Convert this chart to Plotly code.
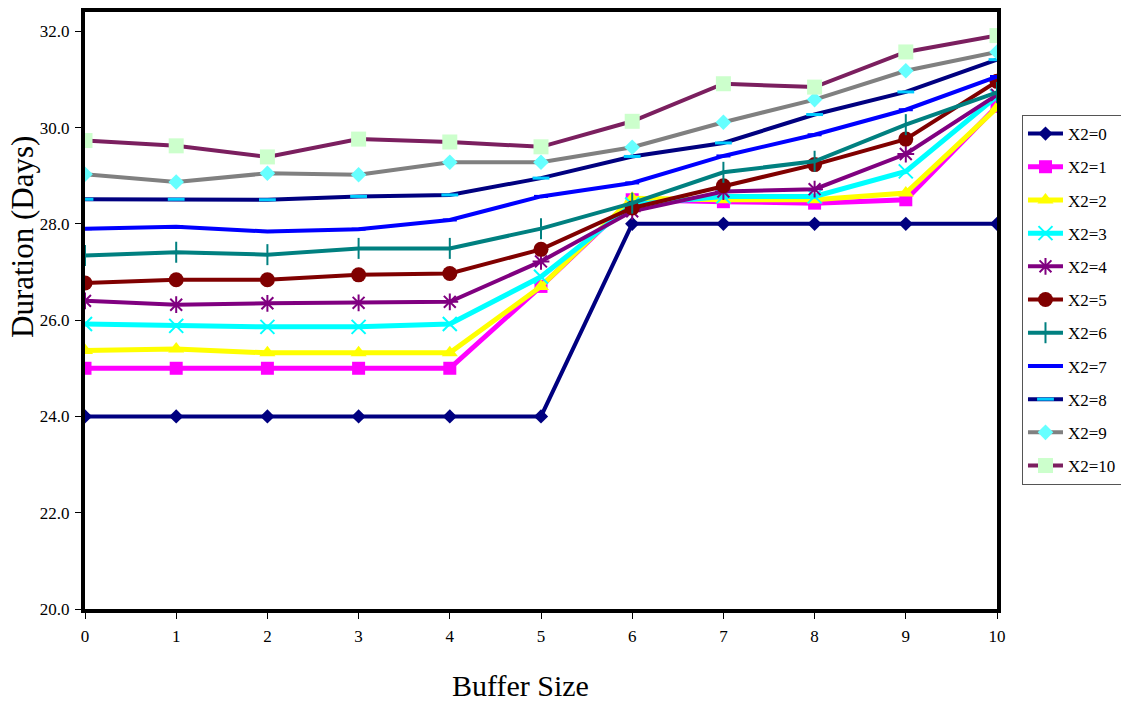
import plotly.graph_objects as go

buffer_size = [0, 1, 2, 3, 4, 5, 6, 7, 8, 9, 10]
series_names = ["X2=0", "X2=1", "X2=2", "X2=3", "X2=4", "X2=5",
                "X2=6", "X2=7", "X2=8", "X2=9", "X2=10"]

x2_0 = [24.0, 24.0, 24.0, 24.0, 24.0, 24.0, 28.0, 28.0, 28.0, 28.0, 28.0]
x2_1 = [25.0, 25.0, 25.0, 25.0, 25.0, 26.70, 28.50, 28.46, 28.43, 28.50, 30.44]
x2_2 = [25.37, 25.40, 25.32, 25.32, 25.32, 26.70, 28.53, 28.50, 28.50, 28.64, 30.41]
x2_3 = [25.92, 25.88, 25.86, 25.86, 25.92, 26.90, 28.40, 28.57, 28.57, 29.09, 30.65]
x2_4 = [26.40, 26.32, 26.35, 26.36, 26.38, 27.22, 28.26, 28.67, 28.72, 29.45, 30.68]
x2_5 = [26.77, 26.84, 26.84, 26.94, 26.97, 27.47, 28.33, 28.79, 29.23, 29.76, 30.96]
x2_6 = [27.34, 27.41, 27.36, 27.49, 27.49, 27.90, 28.43, 29.07, 29.30, 30.06, 30.73]
x2_7 = [27.90, 27.94, 27.84, 27.89, 28.08, 28.57, 28.85, 29.41, 29.85, 30.37, 31.06]
x2_8 = [28.51, 28.51, 28.50, 28.57, 28.60, 28.95, 29.40, 29.68, 30.27, 30.74, 31.41]
x2_9 = [29.03, 28.87, 29.05, 29.02, 29.28, 29.28, 29.59, 30.11, 30.58, 31.18, 31.57]
x2_10 = [29.73, 29.62, 29.39, 29.76, 29.70, 29.60, 30.13, 30.91, 30.84, 31.57, 31.91]

values = [x2_0, x2_1, x2_2, x2_3, x2_4, x2_5, x2_6, x2_7, x2_8, x2_9, x2_10]

y_ticks = [20, 22, 24, 26, 28, 30, 32]

# style per series: line color, line width, marker symbol, marker color, marker size, marker line width
styles = [
    ("#000080", 4, "diamond", "#000080", 11, 0),
    ("#FF00FF", 5, "square", "#FF00FF", 13, 0),
    ("#FFFF00", 5, "triangle-up", "#FFFF00", 14, 0),
    ("#00FFFF", 5, "x-thin-open", "#00FFFF", 14, 2),
    ("#800080", 4, "asterisk-open", "#800080", 14, 2),
    ("#800000", 4, "circle", "#800000", 15, 0),
    ("#008080", 4, "line-ns-open", "#008080", 15, 2),
    ("#0000FF", 4, "line-ew-open", "#0000FF", 10, 3),
    ("#000080", 4, "line-ew-open", "#00CCFF", 12, 3),
    ("#808080", 4, "diamond", "#66FFFF", 12, 0),
    ("#7B1F5F", 4, "square", "#CCFFCC", 15, 0),
]

FONT = "Liberation Serif"

fig = go.Figure()
for i, (name, vals) in enumerate(zip(series_names, values)):
    lc, lw, sym, mc, ms, mlw = styles[i]
    marker = dict(symbol=sym, size=ms, color=mc)
    if mlw:
        marker["line"] = dict(color=mc, width=mlw)
    else:
        marker["line"] = dict(width=0)
    fig.add_trace(go.Scatter(
        x=buffer_size, y=vals, name=name, mode="lines+markers",
        line=dict(color=lc, width=lw), marker=marker,
        legendgroup=name,
    ))

tickfont = dict(family=FONT, size=17, color="black")

fig.update_layout(
    width=1121, height=704,
    margin=dict(l=85, r=124, t=12, b=95, autoexpand=False),
    paper_bgcolor="white", plot_bgcolor="white",
    font=dict(family=FONT, size=17, color="black"),
    showlegend=True,
    legend=dict(
        x=1.0274, y=0.8275, xanchor="left", yanchor="top",
        bordercolor="#555555", borderwidth=1, bgcolor="white",
        font=dict(family=FONT, size=17, color="black"),
        tracegroupgap=8.1, itemwidth=35,
    ),
    xaxis=dict(
        range=[0, 10], tickvals=buffer_size, ticktext=[str(v) for v in buffer_size],
        showgrid=False, zeroline=False,
        showline=True, linecolor="black", linewidth=4, mirror=True,
        ticks="outside", ticklen=6, tickcolor="black", tickwidth=1,
        ticklabelstandoff=3, tickfont=tickfont,
    ),
    yaxis=dict(
        range=[20, 32.4], tickvals=y_ticks, ticktext=[f"{v:.1f}" for v in y_ticks],
        showgrid=False, zeroline=False,
        showline=True, linecolor="black", linewidth=4, mirror=True,
        ticks="outside", ticklen=6, tickcolor="black", tickwidth=1,
        ticklabelstandoff=2, tickfont=tickfont,
    ),
    annotations=[
        dict(text="Buffer Size", xref="paper", yref="paper",
             x=(520 - 85) / 912, y=-(685 - 609) / 597,
             xanchor="center", yanchor="middle", showarrow=False,
             font=dict(family=FONT, size=30, color="black")),
        dict(text="Duration (Days)", xref="paper", yref="paper",
             x=-(85 - 23) / 912, y=(609 - 237) / 597, textangle=-90,
             xanchor="center", yanchor="middle", showarrow=False,
             font=dict(family=FONT, size=31, color="black")),
    ],
)

fig.write_html("out.html")
